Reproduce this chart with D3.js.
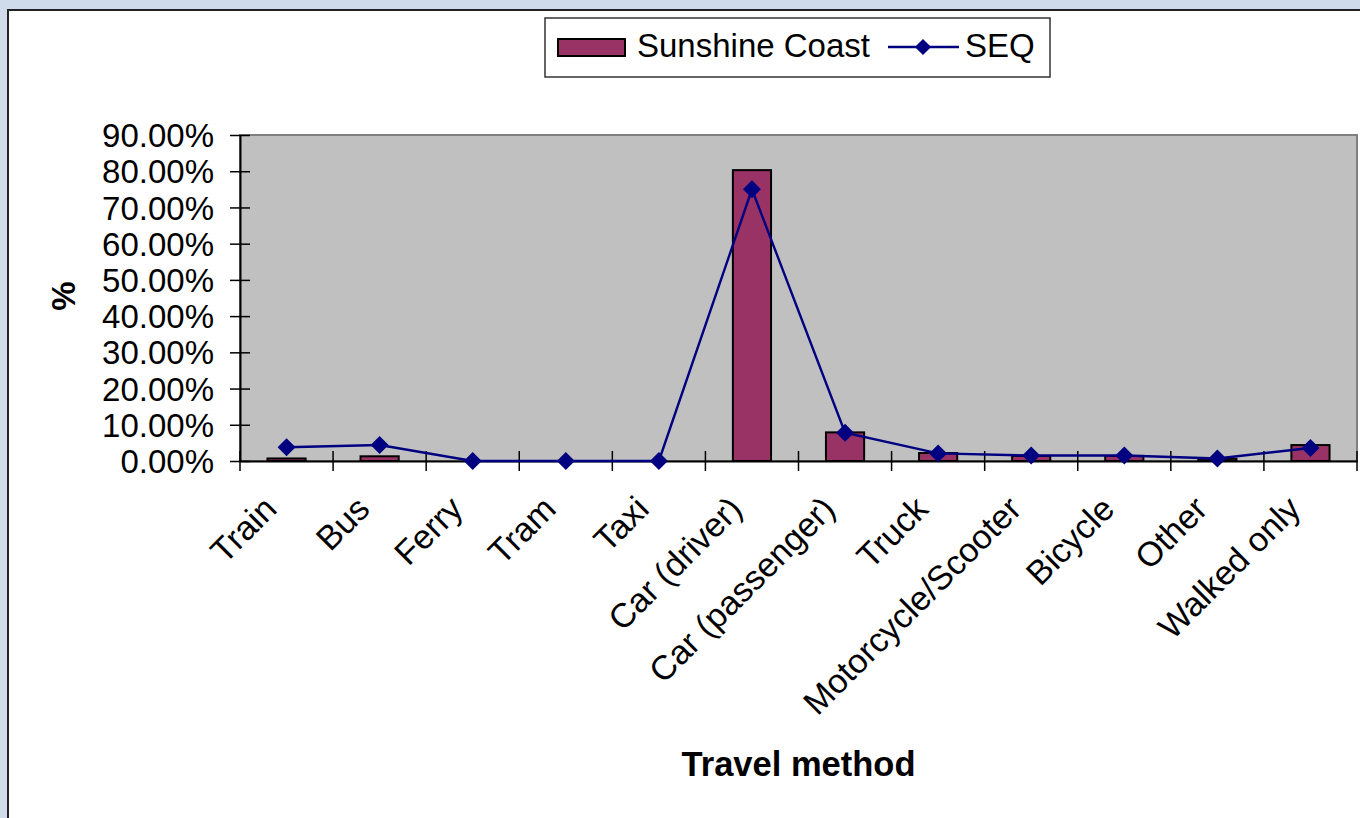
<!DOCTYPE html>
<meta charset="utf-8">
<style>
  body { margin: 0; background: #cfdbeb; }
  svg { display: block; font-family: "Liberation Sans", Arial, sans-serif; }
</style>
<script src="https://d3js.org/d3.v7.min.js"></script>
<div id="chart"></div>
<script>
// data
var categories = ["Train", "Bus", "Ferry", "Tram", "Taxi", "Car (driver)", "Car (passenger)",
                  "Truck", "Motorcycle/Scooter", "Bicycle", "Other", "Walked only"];
var sunshineCoast = [0.007, 0.013, 0, 0, 0, 0.803, 0.079, 0.022, 0.014, 0.014, 0.006, 0.044];
var seq = [0.038, 0.044, 0, 0, 0, 0.75, 0.078, 0.021, 0.015, 0.015, 0.007, 0.036];
var yTicks = [0, 0.1, 0.2, 0.3, 0.4, 0.5, 0.6, 0.7, 0.8, 0.9];

var W = 1360, H = 818;
var plot = {left: 240, right: 1357, top: 135, bottom: 461};

var svg = d3.select("#chart").append("svg")
  .attr("width", W).attr("height", H);

// page background and chart area
svg.append("rect").attr("width", W).attr("height", H).attr("fill", "#cfdbeb");
svg.append("rect")
  .attr("x", 8).attr("y", 10).attr("width", W).attr("height", H)
  .attr("fill", "#fff").attr("stroke", "#222").attr("stroke-width", 2);

var x = d3.scaleBand().domain(categories).range([plot.left, plot.right]);
var y = d3.scaleLinear().domain([0, 0.9]).range([plot.bottom, plot.top]);

// plot area
svg.append("rect")
  .attr("x", plot.left).attr("y", plot.top)
  .attr("width", plot.right - plot.left).attr("height", plot.bottom - plot.top)
  .attr("fill", "#c0c0c0").attr("stroke", "#808080").attr("stroke-width", 2);

// bars
var barW = x.bandwidth() * 0.41;
svg.selectAll(".bar")
  .data(categories)
  .enter().append("rect")
    .attr("class", "bar")
    .attr("x", function(d) { return x(d) + (x.bandwidth() - barW) / 2; })
    .attr("y", function(d, i) { return y(sunshineCoast[i]); })
    .attr("width", barW)
    .attr("height", function(d, i) { return y(0) - y(sunshineCoast[i]); })
    .attr("fill", "#993366")
    .attr("stroke", "#000").attr("stroke-width", 2);

// y axis
var yAxis = svg.append("g")
  .attr("transform", "translate(" + plot.left + ",0)")
  .call(d3.axisLeft(y).tickValues(yTicks).tickFormat(d3.format(".2%"))
    .tickSizeInner(10).tickSizeOuter(0).tickPadding(16));
yAxis.select(".domain").attr("stroke", "#000").attr("stroke-width", 2);
yAxis.selectAll(".tick line").attr("x2", 10).attr("x1", -10).attr("stroke", "#000").attr("stroke-width", 1.5);
yAxis.selectAll(".tick text").attr("font-size", 33).attr("fill", "#000").attr("dy", "0.35em")
  .attr("font-family", "Liberation Sans, Arial, sans-serif");

// x axis: baseline plus ticks at category boundaries
var xAxis = svg.append("g")
  .attr("transform", "translate(0," + plot.bottom + ")")
  .call(d3.axisBottom(x).tickSize(0).tickPadding(0));
xAxis.select(".domain").attr("stroke", "#000").attr("stroke-width", 2);
xAxis.selectAll(".tick text").remove();
xAxis.selectAll(".bound")
  .data(categories.concat(["end"]))
  .enter().append("line")
    .attr("class", "bound")
    .attr("x1", function(d, i) { return plot.left + i * x.step(); })
    .attr("x2", function(d, i) { return plot.left + i * x.step(); })
    .attr("y1", -10).attr("y2", 10)
    .attr("stroke", "#000").attr("stroke-width", 1.5);

// rotated category labels
svg.selectAll(".xlabel")
  .data(categories)
  .enter().append("text")
    .attr("class", "xlabel")
    .attr("text-anchor", "end")
    .attr("font-size", 34)
    .attr("transform", function(d) {
      return "translate(" + (x(d) + x.bandwidth() / 2 - 8) + "," + (plot.bottom + 50) + ") rotate(-45)";
    })
    .text(function(d) { return d; });

// SEQ line and diamonds
var cx = function(d, i) { return x(categories[i]) + x.bandwidth() / 2; };
var line = d3.line().x(cx).y(function(d) { return y(d); });
svg.append("path")
  .datum(seq)
  .attr("d", line)
  .attr("fill", "none").attr("stroke", "#000080").attr("stroke-width", 2.4);

var diamond = "M0,-9L9,0L0,9L-9,0Z";
svg.selectAll(".pt")
  .data(seq)
  .enter().append("path")
    .attr("class", "pt")
    .attr("d", diamond)
    .attr("transform", function(d, i) { return "translate(" + cx(d, i) + "," + y(d) + ")"; })
    .attr("fill", "#000080");

// axis titles
svg.append("text")
  .attr("transform", "translate(75,296) rotate(-90)")
  .attr("text-anchor", "middle")
  .attr("font-size", 33).attr("font-weight", "bold")
  .text("%");
svg.append("text")
  .attr("x", (plot.left + plot.right) / 2).attr("y", 776)
  .attr("text-anchor", "middle")
  .attr("font-size", 34.5).attr("font-weight", "bold")
  .text("Travel method");

// legend
var lg = svg.append("g");
lg.append("rect")
  .attr("x", 545).attr("y", 18).attr("width", 505).attr("height", 59)
  .attr("fill", "#fff").attr("stroke", "#333").attr("stroke-width", 1.5);
lg.append("rect")
  .attr("x", 558).attr("y", 39).attr("width", 67).attr("height", 17)
  .attr("fill", "#993366").attr("stroke", "#000").attr("stroke-width", 2);
lg.append("text").attr("x", 637).attr("y", 57).attr("font-size", 33).text("Sunshine Coast");
lg.append("line")
  .attr("x1", 888).attr("x2", 959).attr("y1", 47).attr("y2", 47)
  .attr("stroke", "#000080").attr("stroke-width", 2.4);
lg.append("path").attr("d", diamond)
  .attr("transform", "translate(923,47) scale(0.9)")
  .attr("fill", "#000080");
lg.append("text").attr("x", 965).attr("y", 57).attr("font-size", 33).text("SEQ");
</script>
